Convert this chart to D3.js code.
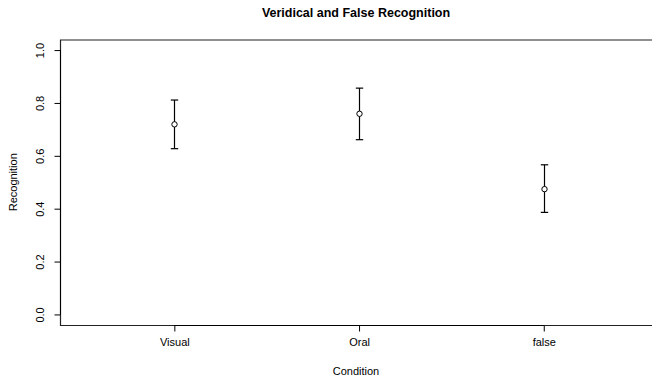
<!DOCTYPE html>
<html>
<head>
<meta charset="utf-8">
<script src="https://cdn.jsdelivr.net/npm/d3@7"></script>
<style>
body { margin: 0; background: #fff; }
text { font-family: "Liberation Sans", Arial, sans-serif; fill: #000; }
</style>
</head>
<body>
<svg id="chart" width="652" height="377"></svg>
<script>
var conditions = ["Visual", "Oral", "false"];
var means = [0.719, 0.759, 0.474];
var upper = [0.811, 0.856, 0.566];
var lower = [0.627, 0.661, 0.386];
var yTicks = [0, 0.2, 0.4, 0.6, 0.8, 1.0];

var svg = d3.select("#chart");
var plotLeft = 60, plotRight = 652, plotTop = 39.5, plotBottom = 325;

var x = d3.scaleLinear().domain([0.381, 3.586]).range([plotLeft, plotRight]);
var y = d3.scaleLinear().domain([-0.04, 1.04]).range([plotBottom, plotTop]);

// box (left, top, bottom; right edge is clipped)
svg.append("path")
  .attr("d", "M" + plotRight + "," + (plotTop + 0.5) + "H" + (plotLeft + 0.5) + "V" + (plotBottom + 0.5) + "H" + plotRight)
  .attr("fill", "none").attr("stroke", "#222").attr("stroke-width", 1.2);

// y axis
var yAxis = svg.append("g").attr("transform", "translate(" + (plotLeft + 0.5) + ",0)")
  .call(d3.axisLeft(y).tickValues(yTicks).tickSize(6).tickFormat(d3.format(".1f")));
yAxis.select(".domain").attr("d", "M0," + y(0) + "V" + y(1)).attr("stroke", "#000");
yAxis.selectAll(".tick line").attr("stroke", "#000");
yAxis.selectAll(".tick text")
  .attr("transform", "rotate(-90)")
  .attr("x", 0).attr("y", -17).attr("dy", 0)
  .attr("text-anchor", "middle")
  .style("font-size", "11px").style("font-family", "Liberation Sans, Arial, sans-serif");

// x axis
var xAxis = svg.append("g").attr("transform", "translate(0," + (plotBottom + 0.5) + ")")
  .call(d3.axisBottom(x).tickValues([1, 2, 3]).tickSize(6).tickFormat(function(d) { return conditions[d - 1]; }));
xAxis.select(".domain").attr("d", "M" + x(1) + ",0H" + x(3)).attr("stroke", "#000");
xAxis.selectAll(".tick line").attr("stroke", "#000");
xAxis.selectAll(".tick text").attr("y", 20).attr("dy", "0")
  .style("font-size", "11px").style("font-family", "Liberation Sans, Arial, sans-serif");

// error bars
var g = svg.append("g");
conditions.forEach(function(c, i) {
  var cx = Math.round(x(i + 1)) + 0.5;
  g.append("line").attr("x1", cx).attr("x2", cx).attr("y1", y(upper[i])).attr("y2", y(lower[i]))
    .attr("stroke", "#000").attr("stroke-width", 1.2);
  [upper[i], lower[i]].forEach(function(v) {
    g.append("line").attr("x1", cx - 3.7).attr("x2", cx + 3.7).attr("y1", y(v)).attr("y2", y(v))
      .attr("stroke", "#000").attr("stroke-width", 1.2);
  });
  g.append("circle").attr("cx", cx).attr("cy", y(means[i])).attr("r", 2.7)
    .attr("fill", "#fff").attr("stroke", "#000").attr("stroke-width", 1);
});

// titles
svg.append("text").attr("x", 356).attr("y", 17).attr("text-anchor", "middle")
  .style("font-size", "12.5px").style("font-weight", "bold")
  .text("Veridical and False Recognition");
svg.append("text").attr("x", 356).attr("y", 375).attr("text-anchor", "middle")
  .style("font-size", "11px").text("Condition");
svg.append("text").attr("transform", "translate(17," + ((plotTop + plotBottom) / 2) + ") rotate(-90)")
  .attr("text-anchor", "middle").style("font-size", "11px").text("Recognition");
</script>
</body>
</html>
